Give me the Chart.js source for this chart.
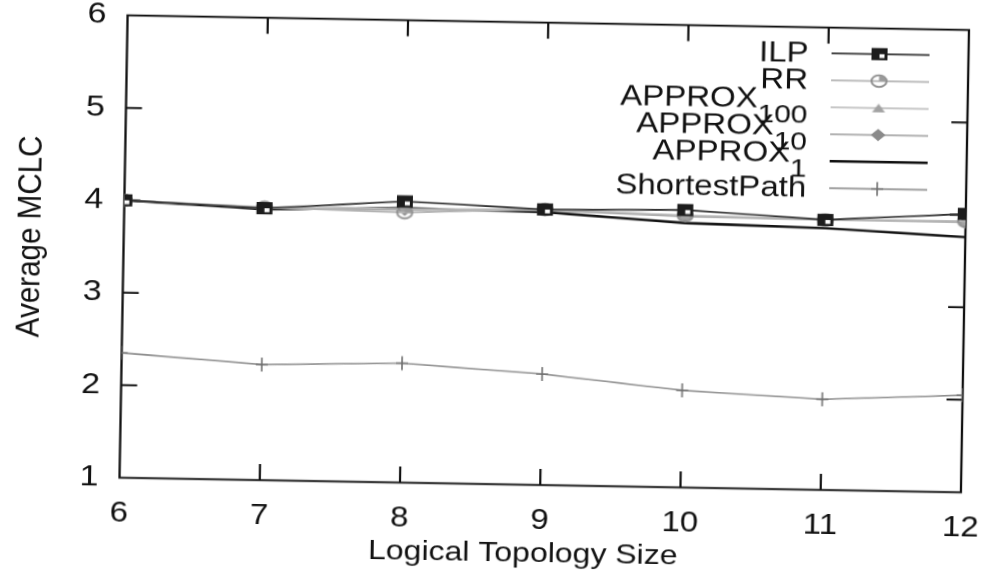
<!DOCTYPE html>
<html>
<head>
<meta charset="utf-8">
<script src="https://cdn.jsdelivr.net/npm/chart.js@4.4.1/dist/chart.umd.min.js"></script>
<style>
  html, body { margin: 0; padding: 0; background: #fff; overflow: hidden; width: 985px; height: 573px; }
  /* the scanned figure is slightly tilted and squashed vertically */
  #tilt { position: absolute; left: 0; top: 0; width: 985px; height: 573px; transform: rotate(1deg); transform-origin: 545px 254px; }
  #squash { width: 985px; height: 659px; transform: scale(1, 0.87); transform-origin: 0 0; }
</style>
</head>
<body>
<div id="tilt"><div id="squash"><canvas id="myChart" width="985" height="659"></canvas></div></div>
<script>
// Data
const topologySizes = [6, 7, 8, 9, 10, 11, 12];
const ilpValues = [4.00, 3.94, 4.04, 3.98, 4.00, 3.92, 4.01];
const rrValues = [4.00, 3.95, 3.92, 3.98, 3.94, 3.92, 3.93];
const approx100Values = [4.00, 3.95, 3.96, 3.98, 3.94, 3.92, 3.93];
const approx10Values = [4.00, 3.94, 3.95, 3.97, 3.93, 3.92, 3.92];
const approx1Values = [4.00, 3.93, 3.97, 3.95, 3.86, 3.83, 3.76];
const shortestPathValues = [2.35, 2.25, 2.29, 2.20, 2.05, 1.98, 2.05];

const xTicks = [6, 7, 8, 9, 10, 11, 12];
const yTicks = [1, 2, 3, 4, 5, 6];
const seriesLabels = ['ILP', 'RR', 'APPROX_{100}', 'APPROX_{10}', 'APPROX_{1}', 'ShortestPath'];
const xTitle = 'Logical Topology Size';
const yTitle = 'Average MCLC';

const FONT = "'Liberation Sans', Arial, sans-serif";

// Small canvases used as point markers (gnuplot-like symbols)
function makeMarker(w, h, draw) {
  const c = document.createElement('canvas');
  c.width = w;
  c.height = h;
  draw(c.getContext('2d'), w, h);
  return c;
}

const squareMarker = makeMarker(18, 16, (g, w, h) => {
  g.fillStyle = '#1c1c1c';
  g.fillRect(1, 1, w - 2, h - 2);
  g.fillStyle = '#fff';
  g.fillRect(w / 2, h / 2, w / 2 - 4, h / 2 - 3.5);
});
const circleMarker = makeMarker(19, 17, (g, w, h) => {
  g.strokeStyle = '#8c8c8c';
  g.lineWidth = 2;
  g.beginPath();
  g.ellipse(w / 2, h / 2, 7.5, 6.8, 0, 0, Math.PI * 2);
  g.stroke();
  g.fillStyle = '#9a9a9a';
  g.beginPath();
  g.moveTo(w / 2, h / 2);
  g.ellipse(w / 2, h / 2, 7.5, 6.8, 0, -Math.PI / 2, 0);
  g.closePath();
  g.fill();
});
const triangleMarker = makeMarker(15, 12, (g, w, h) => {
  g.fillStyle = '#a2a2a2';
  g.beginPath();
  g.moveTo(w / 2, 1);
  g.lineTo(w - 1, h - 1);
  g.lineTo(1, h - 1);
  g.closePath();
  g.fill();
});
const diamondMarker = makeMarker(16, 15, (g, w, h) => {
  g.fillStyle = '#8a8a8a';
  g.beginPath();
  g.moveTo(w / 2, 0.5);
  g.lineTo(w - 0.5, h / 2);
  g.lineTo(w / 2, h - 0.5);
  g.lineTo(0.5, h / 2);
  g.closePath();
  g.fill();
});
const plusMarker = makeMarker(14, 18, (g, w, h) => {
  g.strokeStyle = '#6f6f6f';
  g.lineWidth = 1.6;
  g.beginPath();
  g.moveTo(w / 2, 1);
  g.lineTo(w / 2, h - 1);
  g.moveTo(1, h / 2);
  g.lineTo(w - 1, h / 2);
  g.stroke();
});

const lineColors = ['#333333', '#b3b3b3', '#bdbdbd', '#a4a4a4', '#111111', '#8e8e8e'];
const lineWidths = [2, 2, 2, 2, 2.8, 1.8];
const markers = [squareMarker, circleMarker, triangleMarker, diamondMarker, null, plusMarker];
const seriesValues = [ilpValues, rrValues, approx100Values, approx10Values, approx1Values, shortestPathValues];

// Frame with inward mirrored ticks, axis titles and the gnuplot style key
const gnuplotDecor = {
  id: 'gnuplotDecor',
  beforeDatasetsDraw(chart) {
    const { ctx, chartArea: a, scales: { x, y } } = chart;
    ctx.save();
    ctx.strokeStyle = '#111';
    ctx.lineWidth = 2.3;
    ctx.strokeRect(a.left, a.top, a.right - a.left, a.bottom - a.top);
    ctx.lineWidth = 2.2;
    ctx.beginPath();
    xTicks.slice(1, -1).forEach(v => {
      const px = x.getPixelForValue(v);
      ctx.moveTo(px, a.bottom); ctx.lineTo(px, a.bottom - 18.5);
      ctx.moveTo(px, a.top); ctx.lineTo(px, a.top + 18.5);
    });
    yTicks.slice(1, -1).forEach(v => {
      const py = y.getPixelForValue(v);
      ctx.moveTo(a.left, py); ctx.lineTo(a.left + 16, py);
      ctx.moveTo(a.right, py); ctx.lineTo(a.right - 16, py);
    });
    ctx.stroke();
    ctx.restore();
  },
  afterDraw(chart) {
    const { ctx } = chart;
    ctx.save();
    ctx.fillStyle = '#111';

    // axis titles
    ctx.font = `32px ${FONT}`;
    ctx.textAlign = 'center';
    ctx.textBaseline = 'middle';
    ctx.fillText(xTitle, 528, 637);
    ctx.save();
    ctx.translate(31, 282);
    ctx.rotate(-Math.PI / 2);
    ctx.font = `34px ${FONT}`;
    ctx.fillText(yTitle, 0, 0);
    ctx.restore();

    // key
    const keyTop = 55.5, keyStep = 31, textRight = 805;
    seriesLabels.forEach((label, i) => {
      const ly = keyTop + i * keyStep;
      ctx.strokeStyle = lineColors[i];
      ctx.lineWidth = lineWidths[i];
      ctx.beginPath();
      ctx.moveTo(828, ly);
      ctx.lineTo(926, ly);
      ctx.stroke();
      const mk = markers[i];
      if (mk) ctx.drawImage(mk, 876 - mk.width / 2, ly - mk.height / 2);

      ctx.textAlign = 'right';
      ctx.textBaseline = 'alphabetic';
      const m = label.match(/^(.*)_\{(.*)\}$/);
      if (m) {
        ctx.font = `30px ${FONT}`;
        const subW = ctx.measureText(m[2]).width;
        ctx.fillText(m[2], textRight, ly + 18.5);
        ctx.font = `33px ${FONT}`;
        ctx.fillText(m[1], textRight - subW, ly + 1);
      } else {
        ctx.font = `33px ${FONT}`;
        ctx.fillText(label, textRight, ly + 10.5);
      }
    });
    ctx.restore();
  }
};

Chart.defaults.font.family = FONT;
Chart.defaults.color = '#111';

const ctx = document.getElementById('myChart').getContext('2d');
new Chart(ctx, {
  type: 'line',
  data: {
    datasets: seriesLabels.map((label, i) => ({
      label: label,
      data: topologySizes.map((t, j) => ({ x: t, y: seriesValues[i][j] })),
      borderColor: lineColors[i],
      borderWidth: lineWidths[i],
      pointStyle: markers[i] || 'circle',
      pointRadius: markers[i] ? 8 : 0,
      tension: 0,
      fill: false
    }))
  },
  options: {
    responsive: false,
    animation: false,
    layout: { padding: { top: 26, right: 20, left: 0, bottom: 0 } },
    plugins: {
      legend: { display: false },
      tooltip: { enabled: false }
    },
    scales: {
      x: {
        type: 'linear',
        min: 6,
        max: 12,
        grid: { display: false, drawTicks: false },
        border: { display: false },
        ticks: { stepSize: 1, padding: 22, font: { size: 33 }, color: '#111', maxRotation: 0 },
        afterFit: scale => {
          scale.height = 101.5;
          scale.paddingLeft = 0;
          scale.paddingRight = 0;
        }
      },
      y: {
        min: 1,
        max: 6,
        grid: { display: false, drawTicks: false },
        border: { display: false },
        ticks: { stepSize: 1, padding: 21, font: { size: 34 }, color: '#111' },
        afterFit: scale => {
          scale.width = 123.5;
          scale.paddingTop = 0;
          scale.paddingBottom = 0;
        }
      }
    }
  },
  plugins: [gnuplotDecor]
});
</script>
</body>
</html>
